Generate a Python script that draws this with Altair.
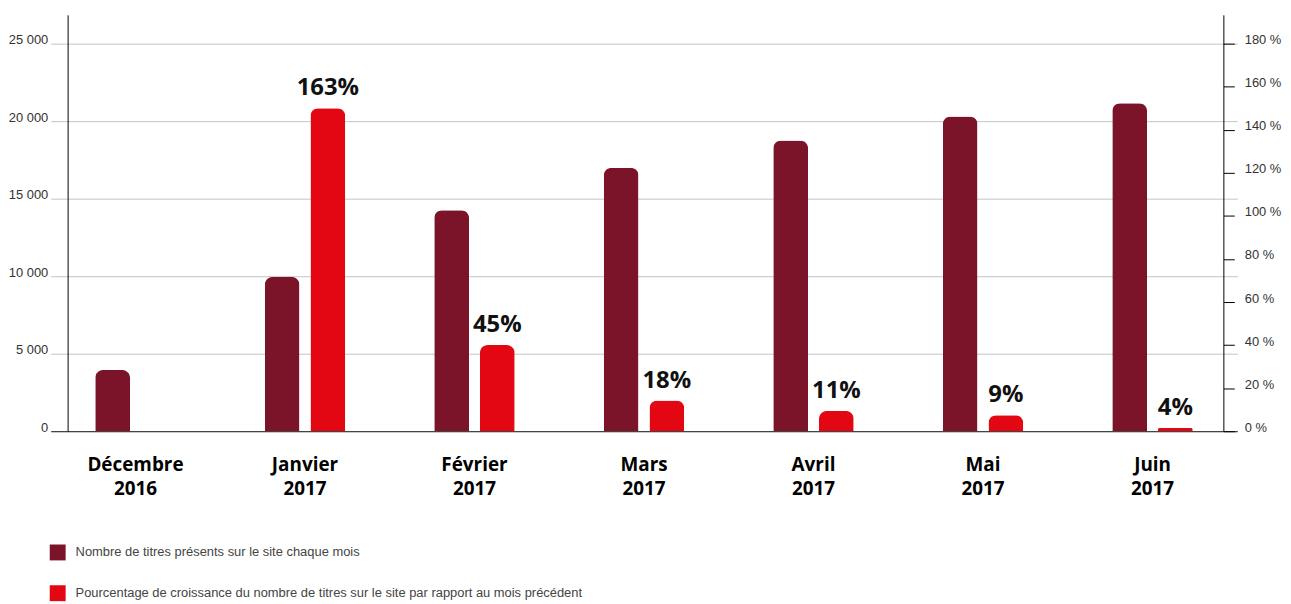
import altair as alt
import pandas as pd

months = ["Décembre|2016", "Janvier|2017", "Février|2017", "Mars|2017",
          "Avril|2017", "Mai|2017", "Juin|2017"]
titles_count = [3950, 9950, 14250, 17000, 18750, 20300, 21150]
growth_bar = [None, 150, 40, 14.3, 9.4, 7.4, 1.5]
growth_label = ["", "163%", "45%", "18%", "11%", "9%", "4%"]
series = ["Nombre de titres présents sur le site chaque mois",
          "Pourcentage de croissance du nombre de titres sur le site par rapport au mois précédent"]
colors = ["#7b1428", "#e30613"]
left_ticks = [0, 5000, 10000, 15000, 20000, 25000]
right_ticks = [0, 20, 40, 60, 80, 100, 120, 140, 160, 180]

NARROW = "Liberation Sans"

df_t = pd.DataFrame({"month": months, "value": titles_count, "series": series[0]})
df_g = pd.DataFrame({"month": months, "value": growth_bar, "label": growth_label, "series": series[1]})
df_g = df_g.dropna(subset=["value"])

x_enc = alt.X(
    "month:N", sort=months,
    scale=alt.Scale(domain=months, paddingInner=0, paddingOuter=0),
    axis=alt.Axis(title=None, labelExpr="split(datum.label, '|')", ticks=False,
                  domain=True, domainColor="#444", domainWidth=1.2,
                  labelFont="Open Sans", labelFontSize=19, labelFontWeight="bold",
                  labelColor="#000", labelLineHeight=24, labelPadding=25, labelAngle=0,
                  labelAlign="center"),
)

color_enc = alt.Color(
    "series:N",
    scale=alt.Scale(domain=series, range=colors),
    legend=alt.Legend(orient="none", legendX=-1, legendY=533, direction="vertical",
                      title=None, symbolType="square", symbolSize=256, symbolStrokeWidth=0,
                      symbolOpacity=1, labelFont=NARROW, labelFontSize=13, labelColor="#444",
                      labelOffset=10, rowPadding=25, padding=0, labelLimit=0),
)

dark = alt.Chart(df_t).mark_bar(
    width=35, xOffset=-23, cornerRadiusTopLeft=8, cornerRadiusTopRight=8
).encode(
    x=x_enc,
    y=alt.Y("value:Q",
            scale=alt.Scale(domain=[0, 26860], nice=False, zero=True),
            axis=alt.Axis(orient="left", title=None, values=left_ticks, offset=-17,
                          grid=True, gridColor="#c4c4c4", gridWidth=1, ticks=False, tickSize=0,
                          labelPadding=20, labelOffset=-4, domainColor="#000", domainWidth=1,
                          labelExpr="replace(format(datum.value, ','), ',', ' ')",
                          labelFont=NARROW, labelFontSize=13, labelColor="#333")),
    color=color_enc,
)

red = alt.Chart(df_g).mark_bar(
    width=35, xOffset=23, cornerRadiusTopLeft=8, cornerRadiusTopRight=8
).encode(
    x=x_enc,
    y=alt.Y("value:Q",
            scale=alt.Scale(domain=[0, 193.4], nice=False, zero=True),
            axis=alt.Axis(orient="right", title=None, values=right_ticks, offset=-14,
                          grid=False, ticks=True, tickSize=11, tickColor="#000", tickWidth=1,
                          labelPadding=10, labelOffset=-4, domainColor="#000", domainWidth=1,
                          labelExpr="datum.value + ' %'",
                          labelFont=NARROW, labelFontSize=13, labelColor="#333")),
    color=color_enc,
)

text = alt.Chart(df_g).mark_text(
    xOffset=23, dy=-13, baseline="alphabetic", align="center",
    fontSize=24, fontWeight="bold", font="Open Sans", color="#111"
).encode(
    x=x_enc,
    y=alt.Y("value:Q", scale=alt.Scale(domain=[0, 193.4], nice=False, zero=True), axis=None),
    text="label:N",
)

chart = alt.layer(dark, red, text).resolve_scale(y="independent").properties(
    width=1194, height=419,
    padding={"left": 43, "top": 5, "right": 46, "bottom": 174},
    autosize=alt.AutoSizeParams(type="none"),
).configure_view(stroke=None)

chart.save("out.html", embed_options={"renderer": "svg", "actions": False})
